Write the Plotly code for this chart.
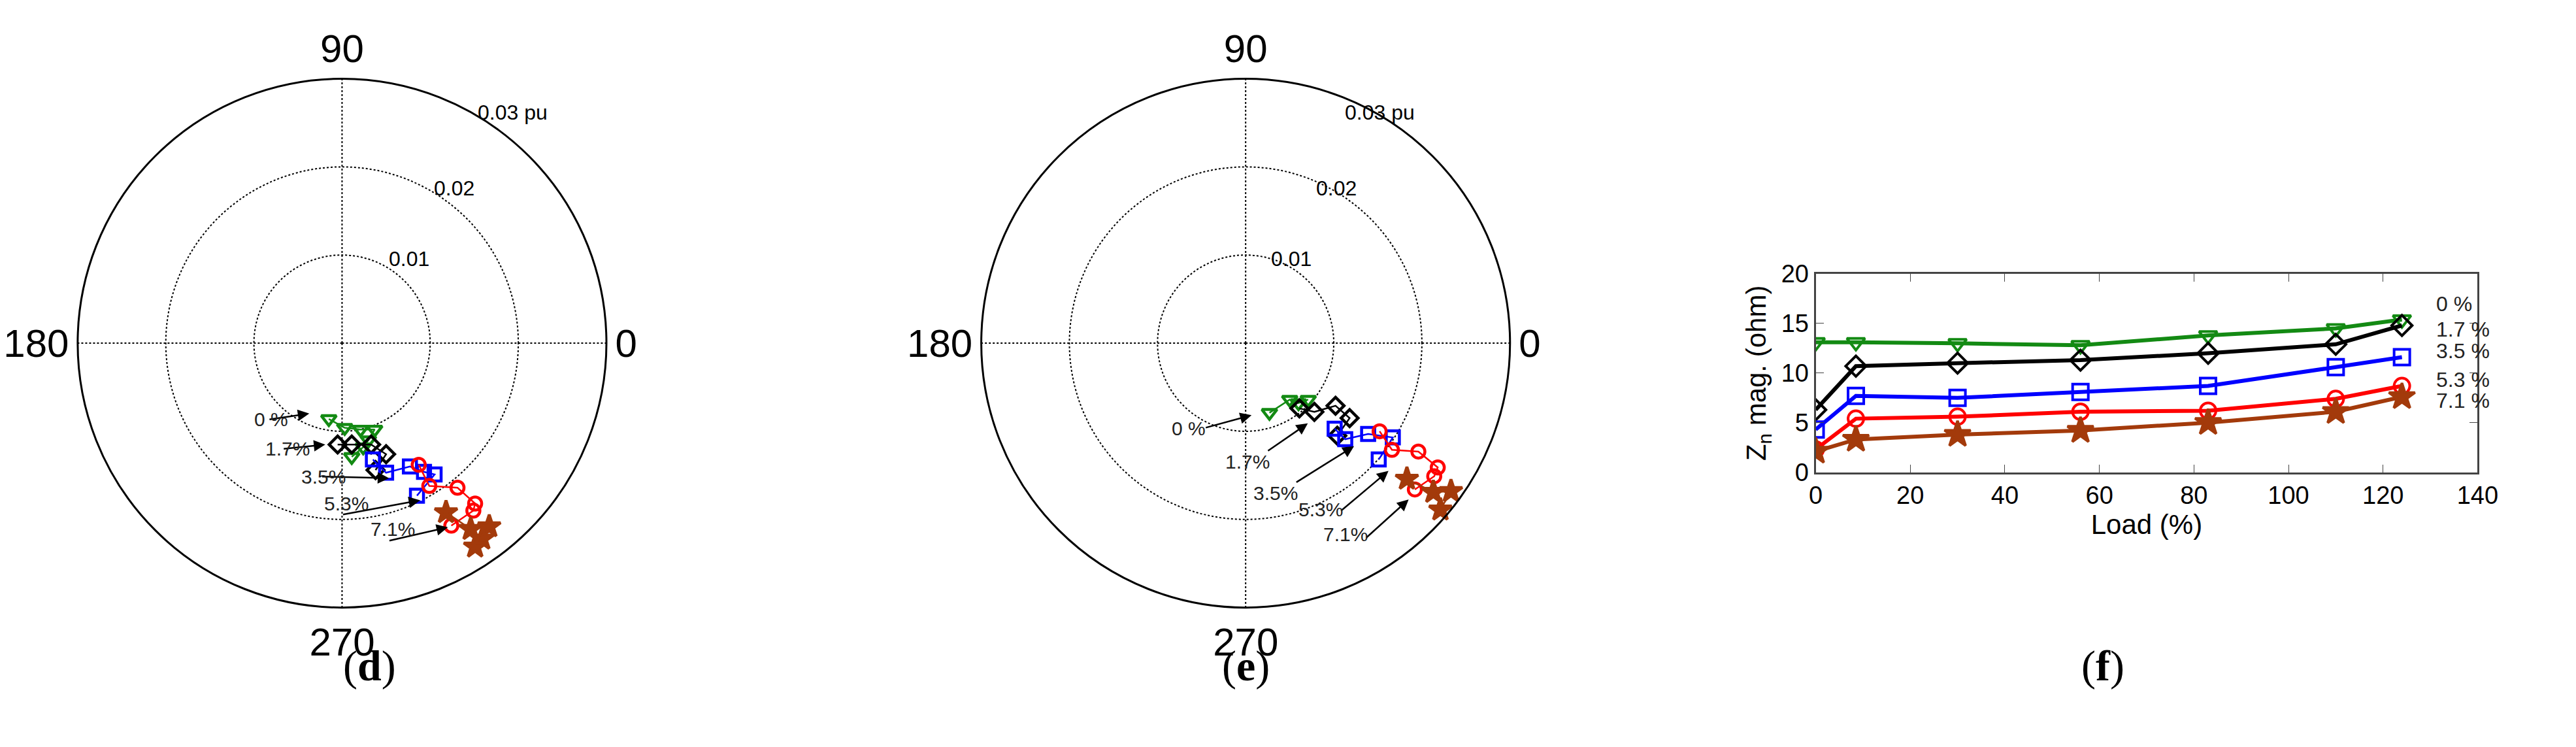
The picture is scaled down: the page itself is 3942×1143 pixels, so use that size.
import numpy as np
import plotly.graph_objects as go

W, H = 3942, 1143
series = ["0 %", "1.7%", "3.5%", "5.3%", "7.1%"]
colors = ["#138a13", "#000000", "#0000ff", "#ff0000", "#a33a0b"]
symbols = ["triangle-down-open", "diamond-open", "square-open", "circle-open", "star"]

# Panel (d): phasor real / imag parts (pu)
d_re = [[-0.0015, 0.0003, 0.0021, 0.0037, 0.0030, 0.0024, 0.0011],
        [-0.0005, 0.0011, 0.0033, 0.0050, 0.0038],
        [0.0035, 0.0050, 0.0077, 0.0093, 0.0105, 0.0085],
        [0.0087, 0.0099, 0.0131, 0.0151, 0.0149, 0.0124],
        [0.0118, 0.0146, 0.0167, 0.0159, 0.0151]]
d_im = [[-0.0086, -0.0096, -0.0098, -0.0098, -0.0110, -0.0118, -0.0129],
        [-0.0115, -0.0115, -0.0115, -0.0126, -0.0144],
        [-0.0132, -0.0147, -0.0140, -0.0146, -0.0149, -0.0173],
        [-0.0138, -0.0162, -0.0164, -0.0182, -0.0190, -0.0207],
        [-0.0192, -0.0211, -0.0208, -0.0222, -0.0231]]
# Panel (e)
e_re = [[0.0027, 0.0050, 0.0060, 0.0071],
        [0.0061, 0.0078, 0.0102, 0.0118, 0.0104],
        [0.0101, 0.0113, 0.0139, 0.0167, 0.0151],
        [0.0152, 0.0166, 0.0196, 0.0218, 0.0214, 0.0192],
        [0.0183, 0.0213, 0.0233, 0.0221]]
e_im = [[-0.0079, -0.0064, -0.0068, -0.0064],
        [-0.0074, -0.0078, -0.0071, -0.0085, -0.0105],
        [-0.0097, -0.0109, -0.0103, -0.0107, -0.0132],
        [-0.0100, -0.0121, -0.0123, -0.0141, -0.0151, -0.0166],
        [-0.0154, -0.0169, -0.0168, -0.0189]]

# Panel (f)
load = [0, 8.5, 30, 56, 83, 110, 124]
zn = [[13.1, 13.1, 13.0, 12.8, 13.8, 14.5, 15.4],
      [6.3, 10.7, 11.0, 11.3, 12.0, 12.9, 14.8],
      [4.3, 7.7, 7.5, 8.1, 8.7, 10.6, 11.6],
      [2.3, 5.4, 5.6, 6.1, 6.2, 7.4, 8.7],
      [2.1, 3.3, 3.8, 4.2, 5.0, 6.1, 7.6]]
f_labels = ["0 %", "1.7 %", "3.5 %", "5.3 %", "7.1 %"]
f_label_y = [17.0, 14.4, 12.2, 9.3, 7.2]

# arrow annotations (pu coords): text, tail, head
d_arrows = [((-0.0106, -0.0093), (-0.0087, -0.0093), (-0.0039, -0.0086)),
            ((-0.0093, -0.0129), (-0.0070, -0.0129), (-0.0020, -0.0124)),
            ((-0.0050, -0.0163), (-0.0024, -0.0163), (0.0056, -0.0165)),
            ((-0.0023, -0.0211), (0.0001, -0.0209), (0.0093, -0.0192)),
            ((0.0032, -0.0242), (0.0056, -0.0241), (0.0126, -0.0225))]
e_arrows = [((-0.0068, -0.0104), (-0.0048, -0.0103), (0.0007, -0.0088)),
            ((0.0002, -0.0145), (0.0026, -0.0131), (0.0074, -0.0098)),
            ((0.0036, -0.0183), (0.0060, -0.0169), (0.0129, -0.0126)),
            ((0.0089, -0.0218), (0.0113, -0.0204), (0.0170, -0.0156)),
            ((0.0119, -0.0248), (0.0143, -0.0237), (0.0194, -0.0191))]
ring_labels = [("0.01", (0.0054, 0.0119)), ("0.02", (0.0108, 0.0205)), ("0.03 pu", (0.0160, 0.0298))]

R = 390          # drawn circle radius (px)
RD = 420         # half-size of polar domain (px)
cy = 515
centers = {"polar": 510, "polar2": 1908}

fig = go.Figure()
for name, re_all, im_all in [("polar", d_re, d_im), ("polar2", e_re, e_im)]:
    for i in range(5):
        re = np.array(re_all[i]); im = np.array(im_all[i])
        r = np.hypot(re, im); th = np.degrees(np.arctan2(im, re))
        fig.add_trace(go.Scatterpolar(
            r=r, theta=th, mode="lines+markers", subplot=name, showlegend=False,
            line=dict(color=colors[i], width=2.5),
            marker=dict(symbol=symbols[i], color=colors[i], size=26 if i == 4 else 20,
                        line=dict(color=colors[i], width=4.5))))

for i in range(5):
    fig.add_trace(go.Scatter(
        x=load, y=zn[i], mode="lines+markers", xaxis="x", yaxis="y", showlegend=False,
        line=dict(color=colors[i], width=6),
        marker=dict(symbol=symbols[i], color=colors[i], size=30 if i == 4 else 24,
                    line=dict(color=colors[i], width=4))))

def topaper(name, p):
    px = centers[name] + p[0] / 0.03 * R
    py = cy - p[1] / 0.03 * R
    return px, py

ann = []
for name, arrows in [("polar", d_arrows), ("polar2", e_arrows)]:
    for k, (t, tail, head) in enumerate(arrows):
        hx, hy = topaper(name, head); tx, ty = topaper(name, tail); sx, sy = topaper(name, t)
        ann.append(dict(x=hx / W, y=1 - hy / H, xref="paper", yref="paper", text="",
                        showarrow=True, arrowhead=2, arrowsize=1.4, arrowwidth=2.5,
                        ax=tx - hx, ay=ty - hy, arrowcolor="black"))
        ann.append(dict(x=sx / W, y=1 - sy / H, xref="paper", yref="paper", text=series[k],
                        showarrow=False, font=dict(size=30, color="#222")))
    for txt, p in ring_labels:
        x, y = topaper(name, p)
        ann.append(dict(x=x / W, y=1 - y / H, xref="paper", yref="paper", text=txt,
                        showarrow=False, font=dict(size=32, color="black")))
for lab, yv in zip(f_labels, f_label_y):
    ann.append(dict(x=131, y=yv, xref="x", yref="y", text=lab, showarrow=False,
                    xanchor="left", font=dict(size=32, color="#222")))
for lab, xc in [("d", 510), ("e", 1908), ("f", 3270)]:
    ann.append(dict(x=xc / W, y=1 - 1068 / H, xref="paper", yref="paper",
                    text="(<b>%s</b>)" % lab, showarrow=False,
                    font=dict(size=66, family="Liberation Serif", color="black")))

def polar_layout(x0):
    return dict(
        domain=dict(x=[(x0 - RD) / W, (x0 + RD) / W], y=[1 - (cy + RD) / H, 1 - (cy - RD) / H]),
        bgcolor="white",
        radialaxis=dict(range=[0, 0.03], tickvals=[0.01, 0.02], showticklabels=False,
                        ticks="", showline=False, gridcolor="black", griddash="dot", gridwidth=2),
        angularaxis=dict(tickvals=[0, 90, 180, 270], ticktext=["0", "90", "180", "270"],
                         ticks="", direction="counterclockwise", rotation=0,
                         linecolor="black", linewidth=3, gridcolor="black", griddash="dot",
                         gridwidth=2, tickfont=dict(size=60, family="Liberation Sans", color="black")))

fig.update_layout(
    width=W, height=H, paper_bgcolor="white", plot_bgcolor="white",
    margin=dict(l=0, r=0, t=0, b=0),
    font=dict(family="Liberation Sans", color="black"),
    polar=polar_layout(510), polar2=polar_layout(1908),
    xaxis=dict(domain=[2790 / W, 3814 / W], range=[0, 140], dtick=20, ticks="inside",
               ticklen=12, mirror="allticks", showline=True, linecolor="#444", linewidth=3,
               showgrid=False, zeroline=False, tickfont=dict(size=38),
               title=dict(text="Load (%)", font=dict(size=42), standoff=5)),
    yaxis=dict(domain=[1 - 720 / H, 1 - 405 / H], range=[0, 20], dtick=5, ticks="inside",
               ticklen=12, mirror="allticks", showline=True, linecolor="#444", linewidth=3,
               showgrid=False, zeroline=False, tickfont=dict(size=38),
               title=dict(text="Z<sub>n</sub> mag. (ohm)", font=dict(size=42), standoff=10)),
    annotations=ann,
)
fig.write_html("out.html")
